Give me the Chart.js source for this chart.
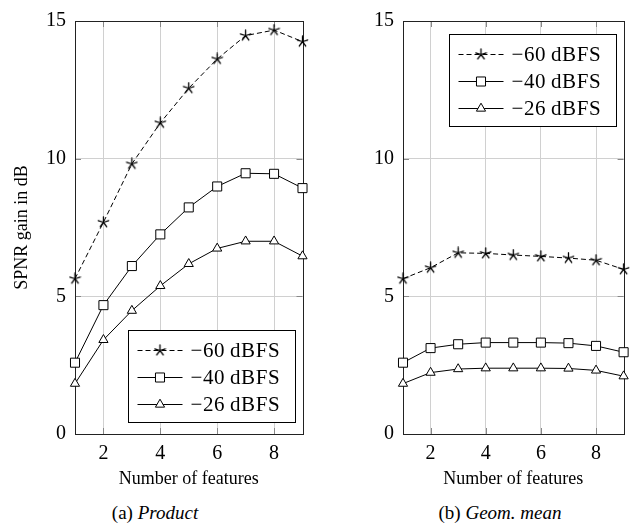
<!DOCTYPE html>
<html>
<head>
<meta charset="utf-8">
<script src="https://cdn.jsdelivr.net/npm/chart.js"></script>
<style>
  body { margin: 0; background: #fff; }
  canvas { position: absolute; top: 0; }
  .cap { position: absolute; top: 502px; width: 240px; text-align: center;
         font: 19px "Liberation Serif", serif; color: #000; }
</style>
</head>
<body>
<canvas id="left" width="320" height="490" style="left:0"></canvas>
<canvas id="right" width="311" height="490" style="left:320px"></canvas>
<div class="cap" style="left:35px">(a) <i>Product</i></div>
<div class="cap" style="left:380px">(b) <i>Geom. mean</i></div>
<script>
// nombre de features (axe x)
const features = [1, 2, 3, 4, 5, 6, 7, 8, 9];
const xTicks = [2, 4, 6, 8];
const yTicks = [0, 5, 10, 15];
const seriesNames = ['\u221260\u2009dBFS', '\u221240\u2009dBFS', '\u221226\u2009dBFS'];

// (a) Product
const productM60 = [5.64, 7.69, 9.81, 11.3, 12.56, 13.62, 14.47, 14.67, 14.25];
const productM40 = [2.59, 4.68, 6.10, 7.25, 8.23, 8.99, 9.47, 9.45, 8.93];
const productM26 = [1.83, 3.42, 4.48, 5.38, 6.18, 6.74, 7.00, 7.00, 6.46];

// (b) Geom. mean
const geomM60 = [5.64, 6.04, 6.58, 6.56, 6.50, 6.45, 6.39, 6.31, 5.98];
const geomM40 = [2.59, 3.12, 3.26, 3.32, 3.32, 3.32, 3.30, 3.20, 2.97];
const geomM26 = [1.83, 2.23, 2.36, 2.39, 2.39, 2.39, 2.38, 2.31, 2.10];

const FONT = '"Liberation Serif", serif';

// étoile à 5 branches façon pgfplots
function makeStar() {
  const c = document.createElement('canvas');
  c.width = 13; c.height = 13;
  const g = c.getContext('2d');
  g.strokeStyle = '#000';
  g.lineWidth = 1.3;
  g.lineCap = 'round';
  g.beginPath();
  for (let i = 0; i < 5; i++) {
    const a = -Math.PI / 2 + i * 2 * Math.PI / 5;
    g.moveTo(6.5, 6.5);
    g.lineTo(6.5 + Math.cos(a) * 5.5, 6.5 + Math.sin(a) * 5.5);
  }
  g.stroke();
  return c;
}
const starImg = makeStar();

function buildDatasets(v60, v40, v26) {
  const mk = (vals, i, style, radius, dash) => ({
    label: seriesNames[i],
    data: features.map((x, k) => ({ x, y: vals[k] })),
    borderColor: '#000',
    backgroundColor: '#fff',
    borderWidth: 1,
    borderDash: dash,
    pointStyle: style,
    pointRadius: radius,
    pointBorderWidth: 1,
    pointBorderColor: '#000',
    pointBackgroundColor: '#fff',
    tension: 0,
    clip: false
  });
  return [
    mk(v60, 0, starImg, 5, [5, 3]),
    mk(v40, 1, 'rect', 6.4, []),
    mk(v26, 2, 'triangle', 5.3, [])
  ];
}

// cadre + petites graduations internes
const frame = {
  id: 'frame',
  beforeDatasetsDraw(chart) {
    const { ctx, chartArea: a, scales } = chart;
    ctx.save();
    ctx.strokeStyle = '#888';
    ctx.lineWidth = 1;
    ctx.beginPath();
    xTicks.forEach(v => {
      const px = Math.round(scales.x.getPixelForValue(v)) + 0.5;
      ctx.moveTo(px, a.bottom); ctx.lineTo(px, a.bottom - 6);
      ctx.moveTo(px, a.top); ctx.lineTo(px, a.top + 6);
    });
    yTicks.forEach(v => {
      const py = Math.round(scales.y.getPixelForValue(v)) + 0.5;
      ctx.moveTo(a.left, py); ctx.lineTo(a.left + 6, py);
      ctx.moveTo(a.right, py); ctx.lineTo(a.right - 6, py);
    });
    ctx.stroke();
    ctx.strokeStyle = '#222';
    ctx.strokeRect(Math.round(a.left) + 0.5, Math.round(a.top) + 0.5,
                   Math.round(a.right - a.left), Math.round(a.bottom - a.top));
    ctx.restore();
  }
};

// légende encadrée dans la zone de tracé
const boxLegend = {
  id: 'boxLegend',
  afterDatasetsDraw(chart, args, opts) {
    const { ctx, chartArea: a } = chart;
    const w = 167, h = 92;
    const x0 = Math.round(a.right - opts.right - w) + 0.5;
    const y0 = Math.round(opts.top != null ? a.top + opts.top : a.bottom - opts.bottom - h) + 0.5;
    ctx.save();
    ctx.fillStyle = '#fff';
    ctx.fillRect(x0, y0, w, h);
    ctx.strokeStyle = '#000';
    ctx.lineWidth = 1;
    ctx.strokeRect(x0, y0, w, h);
    chart.data.datasets.forEach((ds, i) => {
      const y = Math.round(y0 + 19 + 27 * i) + 0.5;
      ctx.setLineDash(ds.borderDash || []);
      ctx.beginPath();
      ctx.moveTo(x0 + 9, y); ctx.lineTo(x0 + 54, y);
      ctx.stroke();
      ctx.setLineDash([]);
      ctx.fillStyle = '#fff';
      ctx.strokeStyle = '#000';
      Chart.helpers.drawPoint(ctx, { pointStyle: ds.pointStyle, radius: ds.pointRadius, borderWidth: 1, rotation: 0 }, x0 + 31.5, y);
      ctx.fillStyle = '#000';
      ctx.font = '21px ' + FONT;
      ctx.textBaseline = 'middle';
      ctx.letterSpacing = '0.6px';
      ctx.fillText(ds.label, x0 + 62, y + 1);
    });
    ctx.restore();
  }
};

function drawPanel(id, datasets, yWidth, padRight, showYTitle, legendPos) {
  new Chart(document.getElementById(id), {
    type: 'line',
    data: { datasets },
    plugins: [frame, boxLegend],
    options: {
      responsive: false,
      animation: false,
      layout: { padding: { left: 0, right: padRight, top: 19, bottom: 0 } },
      plugins: {
        legend: { display: false },
        tooltip: { enabled: false },
        boxLegend: legendPos
      },
      scales: {
        x: {
          type: 'linear', min: 1, max: 9,
          afterBuildTicks: s => { s.ticks = xTicks.map(v => ({ value: v })); },
          afterFit: s => { s.height = 56; },
          grid: { color: '#d0d0d0', drawTicks: false },
          border: { display: false },
          ticks: { color: '#000', padding: 8, font: { family: FONT, size: 20 } },
          title: { display: true, text: 'Number of features', color: '#000',
                   padding: { top: 0, bottom: 0 }, font: { family: FONT, size: 18 } }
        },
        y: {
          type: 'linear', min: 0, max: 15,
          afterBuildTicks: s => { s.ticks = yTicks.map(v => ({ value: v })); },
          afterFit: s => { s.width = yWidth; },
          grid: { color: '#d0d0d0', drawTicks: false },
          border: { display: false },
          ticks: { color: '#000', padding: 9, font: { family: FONT, size: 20 } },
          title: { display: showYTitle, text: 'SPNR gain in dB', color: '#000',
                   padding: { top: 11, bottom: 0 }, font: { family: FONT, size: 18 } }
        }
      }
    }
  });
}

drawPanel('left', buildDatasets(productM60, productM40, productM26), 75, 17.5, true, { right: 7.5, bottom: 12 });
drawPanel('right', buildDatasets(geomM60, geomM40, geomM26), 83, 0.5, false, { right: 7.2, top: 13 });
</script>
</body>
</html>
